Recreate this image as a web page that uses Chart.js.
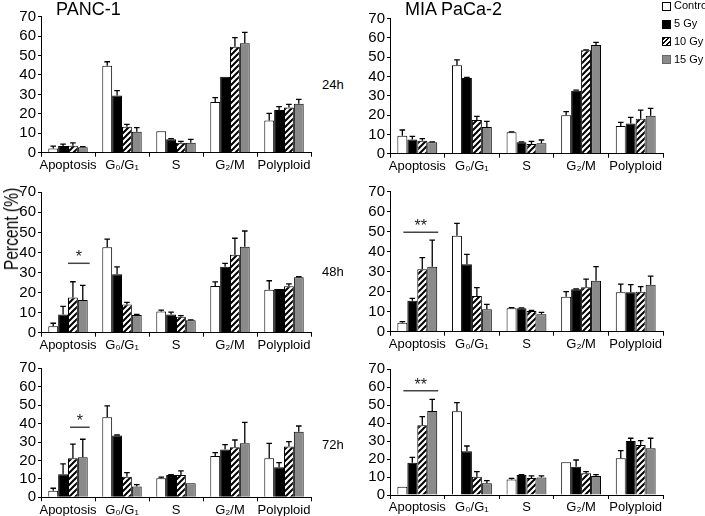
<!DOCTYPE html>
<html><head><meta charset="utf-8">
<script src="https://cdn.jsdelivr.net/npm/chart.js@4.4.1/dist/chart.umd.min.js"></script>
<style>
html,body{margin:0;padding:0;background:#fff;}
body{width:705px;height:516px;position:relative;overflow:hidden;font-family:'Liberation Sans',Arial,sans-serif;}
canvas{position:absolute;}
.t{position:absolute;line-height:1;white-space:nowrap;color:#000;z-index:5;}
.sw{position:absolute;width:9px;height:9px;box-sizing:border-box;border:1px solid #000;z-index:5;}
</style></head><body>
<script>
// ---------------- DATA ----------------
const categories = ['Apoptosis', 'G\u2080/G\u2081', 'S', 'G\u2082/M', 'Polyploid'];
const seriesNames = ['Control', '5 Gy', '10 Gy', '15 Gy'];
const yTickValues = [0, 10, 20, 30, 40, 50, 60, 70];
const cellLines = ['PANC-1', 'MIA PaCa-2'];
const timeLabels = ['24h', '48h', '72h'];

// rows: Control, 5 Gy, 10 Gy, 15 Gy ; columns: categories
const panc24Mean = [[2.2, 44.8, 11.1, 26.1, 16.6],[3.4, 29.5, 6.9, 39.1, 22.0],[3.6, 13.4, 5.1, 54.5, 23.3],[2.8, 10.8, 5.1, 56.3, 25.2]];
const panc24Err  = [[1.2, 2.0, 0, 2.2, 3.6],[1.0, 2.4, 0.3, 0, 1.7],[1.5, 1.2, 0.7, 4.7, 1.6],[0.3, 2.1, 1.8, 5.6, 2.2]];
const mia24Mean  = [[9.3, 45.8, 11.1, 19.9, 14.3],[7.4, 39.2, 5.9, 32.7, 15.6],[6.7, 17.5, 5.0, 53.6, 18.1],[5.9, 13.8, 5.4, 56.3, 19.7]];
const mia24Err   = [[3.0, 2.9, 0.2, 1.9, 1.9],[1.6, 0.4, 0.2, 0.3, 3.2],[1.1, 1.9, 1.4, 0.2, 4.5],[0.2, 3.0, 1.7, 1.4, 3.8]];
const panc48Mean = [[3.2, 42.6, 10.6, 23.3, 21.4],[9.1, 29.1, 9.1, 32.9, 21.8],[17.6, 14.1, 8.0, 38.9, 23.1],[16.3, 8.8, 6.2, 42.9, 27.6]];
const panc48Err  = [[1.5, 4.1, 0.7, 2.0, 4.5],[4.0, 3.7, 1.2, 1.7, 0],[7.8, 1.0, 0.5, 8.2, 1.2],[7.3, 0.3, 0.2, 7.8, 0.3]];
const mia48Mean  = [[4.5, 48.0, 11.7, 17.5, 19.7],[15.5, 33.7, 11.7, 21.2, 19.7],[31.2, 17.8, 10.3, 22.2, 20.0],[32.5, 11.2, 8.7, 25.5, 23.5]];
const mia48Err   = [[0.5, 6.2, 0.3, 2.5, 4.1],[1.2, 5.0, 0.2, 0.2, 3.8],[5.8, 4.2, 0.4, 4.1, 2.5],[13.3, 2.5, 1.0, 7.0, 4.3]];
const panc72Mean = [[3.6, 43.4, 10.3, 22.4, 21.2],[12.5, 33.5, 12.1, 26.0, 16.3],[21.2, 11.2, 12.1, 27.1, 27.5],[21.7, 5.8, 7.6, 29.3, 35.6]];
const panc72Err  = [[1.3, 6.2, 0.6, 1.8, 8.1],[5.6, 0.3, 0.2, 2.6, 2.5],[7.7, 2.2, 2.2, 4.0, 2.7],[9.8, 1.1, 0, 11.4, 3.1]];
const mia72Mean  = [[4.6, 46.6, 8.7, 18.2, 20.4],[18.0, 24.3, 11.1, 15.8, 30.1],[38.8, 10.2, 9.5, 12.1, 27.8],[46.8, 6.5, 9.7, 10.6, 26.0]];
const mia72Err   = [[0, 4.8, 0.6, 0, 4.3],[3.0, 3.0, 0.2, 3.7, 1.5],[4.8, 2.8, 1.1, 0.9, 2.5],[6.5, 1.5, 0.9, 0.7, 5.6]];

// significance bars on Apoptosis (per panel order)
const sigLevels = [null, null, 34.6, 49.7, 38.0, 58.1];
const sigMarks  = ['', '', '*', '**', '*', '**'];

const panelMeans = [panc24Mean, mia24Mean, panc48Mean, mia48Mean, panc72Mean, mia72Mean];
const panelErrs  = [panc24Err, mia24Err, panc48Err, mia48Err, panc72Err, mia72Err];

// ---------------- STYLE / LAYOUT ----------------
const FONT = "'Liberation Sans', Arial, sans-serif";
const geom = [
  {x0:41,  top:16.7,  zero:152.7, right:311},
  {x0:390, top:18.7,  zero:153.7, right:663},
  {x0:41,  top:192.3, zero:332.7, right:311},
  {x0:390, top:191.7, zero:331.7, right:663},
  {x0:41,  top:368.3, zero:497.3, right:311},
  {x0:390, top:369.3, zero:495.0, right:663}
];
const sigStyle = [null, null,
  {from:2, fromFrac:0, fromPad:0, to:3, toPad:2},
  {from:0, fromFrac:0.5, fromPad:1, to:3, toPad:1},
  {from:2, fromFrac:0, fromPad:2, to:3, toPad:2},
  {from:0, fromFrac:0.5, fromPad:1, to:3, toPad:1}];

function makeHatch(){
  const c = document.createElement('canvas'); c.width = 6; c.height = 6;
  const g = c.getContext('2d');
  g.fillStyle = '#fff'; g.fillRect(0,0,6,6);
  g.strokeStyle = '#000'; g.lineWidth = 2; g.lineCap = 'square';
  g.beginPath();
  g.moveTo(-1,7); g.lineTo(7,-1);
  g.moveTo(-4,4); g.lineTo(4,-4);
  g.moveTo(2,10); g.lineTo(10,2);
  g.stroke();
  return document.createElement('canvas').getContext('2d').createPattern(c,'repeat');
}
const hatch = makeHatch();
const fills = ['#ffffff', '#000000', hatch, '#8a8a8a'];

const errorBars = {
  id:'errorBars',
  afterDatasetsDraw(chart){
    const ctx = chart.ctx, y = chart.scales.y;
    chart.data.datasets.forEach((ds,i)=>{
      chart.getDatasetMeta(i).data.forEach((bar,j)=>{
        const e = ds.errors[j]; if(!e) return;
        const top = y.getPixelForValue(ds.data[j] + e);
        ctx.save(); ctx.strokeStyle = '#000'; ctx.lineWidth = 1.3;
        ctx.beginPath();
        ctx.moveTo(bar.x, bar.y); ctx.lineTo(bar.x, top);
        ctx.moveTo(bar.x - 2.8, top); ctx.lineTo(bar.x + 2.8, top);
        ctx.stroke(); ctx.restore();
      });
    });
  }
};
const sigPlugin = {
  id:'sig',
  afterDraw(chart, args, o){
    if(o.level == null || !o.style) return;
    const s = o.style;
    const b0 = chart.getDatasetMeta(s.from).data[0];
    const b1 = chart.getDatasetMeta(s.to).data[0];
    const x1 = b0.x - b0.width/2 + s.fromFrac*b0.width + s.fromPad;
    const x2 = b1.x + b1.width/2 + s.toPad;
    const yy = chart.scales.y.getPixelForValue(o.level);
    const ctx = chart.ctx;
    ctx.save();
    ctx.strokeStyle = '#444'; ctx.lineWidth = 1.5;
    ctx.beginPath(); ctx.moveTo(x1, yy); ctx.lineTo(x2, yy); ctx.stroke();
    ctx.fillStyle = '#222'; ctx.font = '16px ' + FONT;
    ctx.textAlign = 'center'; ctx.textBaseline = 'alphabetic';
    ctx.fillText(o.mark, (x1+x2)/2, yy - 10 + 9);
    ctx.restore();
  }
};

function build(p){
  const g = geom[p];
  const yw = p % 2 === 0 ? 41 : 45;
  const left = g.x0 - yw;
  const ctop = Math.floor(g.top) - 12;
  const padTop = g.top - ctop;
  const xh = 24;
  const height = Math.ceil(g.zero - ctop + xh);
  const width = Math.ceil(g.right - left + 3);
  const cv = document.createElement('canvas');
  cv.width = width; cv.height = height;
  cv.style.left = left + 'px'; cv.style.top = ctop + 'px';
  cv.style.width = width + 'px'; cv.style.height = height + 'px';
  document.body.appendChild(cv);
  const xhFit = height - (g.zero - ctop);
  new Chart(cv, {
    type:'bar',
    data:{
      labels: categories,
      datasets: seriesNames.map((n,i)=>({
        label:n, data: panelMeans[p][i], errors: panelErrs[p][i],
        backgroundColor: fills[i], borderColor:'#000', borderWidth:1,
        categoryPercentage:0.73, barPercentage:1.0
      }))
    },
    options:{
      responsive:false, animation:false, devicePixelRatio:1,
      layout:{padding:{top:padTop, right:3, left:0, bottom:0}},
      plugins:{legend:{display:false}, tooltip:{enabled:false},
        sig:{level: sigLevels[p], mark: sigMarks[p], style: sigStyle[p]}},
      scales:{
        x:{ type:'category', offset:true,
            grid:{display:true, drawOnChartArea:false, drawTicks:true, tickLength:4, color:'#000', lineWidth:1, offset:true},
            border:{display:true, color:'#000', width:1},
            ticks:{color:'#000', font:{family:FONT, size:13}, padding:1, maxRotation:0, autoSkip:false},
            afterFit(s){ s.height = xhFit; } },
        y:{ min:0, max:70,
            afterBuildTicks(s){ s.ticks = yTickValues.map(v=>({value:v})); },
            ticks:{color:'#000', font:{family:FONT, size:15}, padding:2, autoSkip:false},
            grid:{display:true, drawOnChartArea:false, drawTicks:true, tickLength:3, color:'#000'},
            border:{display:true, color:'#000', width:1},
            afterFit(s){ s.width = yw; } }
      }
    },
    plugins:[errorBars, sigPlugin]
  });
}
for(let p=0;p<6;p++) build(p);

// ---------- text overlays ----------
function txt(s, left, top, size, extra){
  const d = document.createElement('div'); d.className='t'; d.textContent = s;
  d.style.left = left+'px'; d.style.top = top+'px'; d.style.fontSize = size+'px';
  if(extra) Object.assign(d.style, extra);
  document.body.appendChild(d); return d;
}
txt(cellLines[0], 56, -0.5, 18);
txt(cellLines[1], 405, -0.5, 18);
txt(timeLabels[0], 322, 78.3, 13);
txt(timeLabels[1], 322, 265.3, 13);
txt(timeLabels[2], 322, 437.6, 13);
txt('Percent (%)', 11, 229, 20, {transform:'translate(-50%,-50%) rotate(-90deg) scaleX(0.78)'});

// legend
const swTops = [1.7, 19.5, 37.3, 55];
const swStyles = [
  {background:'#fff'},
  {background:'#000'},
  {background:'repeating-linear-gradient(-45deg,#fff 0,#fff 1.6px,#000 1.6px,#000 3.4px)'},
  {background:'#8a8a8a', borderColor:'#666'}
];
seriesNames.forEach((n,i)=>{
  const b = document.createElement('div'); b.className='sw';
  b.style.left='662px'; b.style.top = swTops[i]+'px';
  Object.assign(b.style, swStyles[i]);
  document.body.appendChild(b);
  txt(n, 674, swTops[i]-1.3, 11);
});
</script>
</body></html>
